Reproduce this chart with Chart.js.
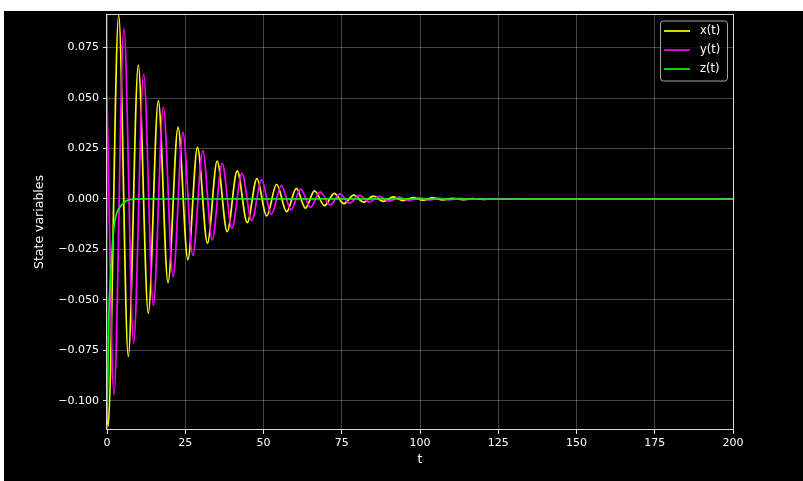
<!DOCTYPE html>
<html>
<head>
<meta charset="utf-8">
<script src="https://cdn.jsdelivr.net/npm/chart.js@4/dist/chart.umd.min.js"></script>
<style>
  html, body { margin: 0; padding: 0; background: #ffffff; width: 803px; height: 481px; overflow: hidden; }
  #wrap { position: absolute; left: 4px; top: 11px; width: 799px; height: 470px; background: #000000; }
</style>
</head>
<body>
<div id="wrap"><canvas id="c" width="799" height="470"></canvas></div>
<script>
// Series names
const seriesLabels = ['x(t)', 'y(t)', 'z(t)'];

// x(t): turning points of the damped oscillation
const tX = [0, 0.32, 3.73, 6.8, 10.0, 13.2, 16.4, 19.5, 22.7, 25.85, 28.9, 32.1, 35.2, 38.4, 41.6, 44.8,
  47.9, 51.0, 54.2, 57.4, 60.5, 63.4, 66.3, 69.5, 72.6, 75.7, 78.8, 82.0, 85.1, 88.3, 91.5, 94.6,
  97.8, 101.0, 104.1, 107.3, 110.5, 113.6, 116.8, 120.0, 123.1, 126.3, 135, 150, 175, 200];
const xVals = [-0.095, -0.1127, 0.0911, -0.078, 0.0663, -0.0566, 0.0487, -0.0414, 0.0355, -0.0300, 0.0256,
  -0.0219, 0.0188, -0.0162, 0.0139, -0.0117, 0.0101, -0.0084, 0.0073, -0.0063, 0.0053, -0.0046, 0.0040,
  -0.0033, 0.0028, -0.0023, 0.0019, -0.0016, 0.0014, -0.0012, 0.0010, -0.0008, 0.0007, -0.0006, 0.0005,
  -0.0004, 0.0003, -0.0003, 0.0002, -0.0002, 0.0001, -0.0001, 0, 0, 0, 0];

// y(t): turning points, lagging x(t)
const tY = [0, 2.24, 5.4, 8.5, 11.7, 14.8, 18.0, 21.1, 24.25, 27.4, 30.6, 33.6, 36.8, 39.9, 43.1, 46.2,
  49.4, 52.5, 55.7, 58.8, 61.9, 65.0, 68.1, 71.3, 74.4, 77.5, 80.7, 83.8, 87.0, 90.2, 93.3, 96.5,
  99.7, 102.8, 106.0, 109.2, 112.3, 115.5, 118.7, 121.8, 125.0, 135, 150, 175, 200];
const yVals = [0.050, -0.097, 0.0845, -0.0714, 0.0619, -0.0525, 0.0454, -0.0385, 0.0330, -0.0278, 0.0239,
  -0.0203, 0.0177, -0.0145, 0.0127, -0.0107, 0.0094, -0.0076, 0.0066, -0.0054, 0.0049, -0.0041, 0.0035,
  -0.0030, 0.0025, -0.0021, 0.0018, -0.0015, 0.0013, -0.0011, 0.0009, -0.0008, 0.0006, -0.0005, 0.0004,
  -0.0004, 0.0003, -0.0002, 0.0002, -0.0001, 0.0001, 0, 0, 0, 0];

// z(t): fast relaxation to zero
const tZ = [0, 0.3, 0.64, 1.0, 1.5, 2.2, 3.0, 4.4, 6.5, 9, 12, 50, 100, 150, 200];
const zVals = [-0.11, -0.085, -0.055, -0.042, -0.028, -0.014, -0.0075, -0.0035, -0.0007, -0.0001, 0, 0, 0, 0, 0];

// Axis ticks
const tTicks = [0, 25, 50, 75, 100, 125, 150, 175, 200];
const stateTicks = [-0.100, -0.075, -0.050, -0.025, 0.000, 0.025, 0.050, 0.075];

const colors = ['#ffff00', '#ff00ff', '#00ff00'];

const toPoints = (ts, vs) => ts.map((t, i) => ({ x: t, y: vs[i] }));

Chart.defaults.font.family = "'DejaVu Sans', sans-serif";
Chart.defaults.font.size = 11;
Chart.defaults.color = '#ffffff';

// Box around the plotting area
const frame = {
  id: 'frame',
  afterDatasetsDraw(chart) {
    const { ctx, chartArea: a } = chart;
    ctx.save();
    ctx.strokeStyle = '#d9d9d9';
    ctx.lineWidth = 1;
    ctx.strokeRect(Math.round(a.left) - 0.5, Math.round(a.top) + 0.5,
      Math.round(a.right - a.left) + 1, Math.round(a.bottom - a.top) - 1);
    ctx.restore();
  }
};

// Legend box in the upper-right corner of the plot
const cornerLegend = {
  id: 'cornerLegend',
  afterDraw(chart) {
    const { ctx, chartArea: a } = chart;
    const w = 67, h = 60;
    const L = a.right - 6 - w, T = a.top + 6.5;
    ctx.save();
    ctx.beginPath();
    ctx.roundRect(L + 0.5, T + 0.5, w, h, 3);
    ctx.fillStyle = 'rgba(0,0,0,0.8)';
    ctx.fill();
    ctx.strokeStyle = 'rgba(204,204,204,0.8)';
    ctx.lineWidth = 1;
    ctx.stroke();
    ctx.font = "11.5px 'DejaVu Sans', sans-serif";
    ctx.textBaseline = 'middle';
    chart.data.datasets.forEach((ds, i) => {
      const y = T + 10.5 + i * 19;
      ctx.beginPath();
      ctx.moveTo(L + 4, y);
      ctx.lineTo(L + 30, y);
      ctx.strokeStyle = ds.borderColor;
      ctx.lineWidth = 1.7;
      ctx.stroke();
      ctx.fillStyle = '#ffffff';
      ctx.fillText(ds.label, L + 40, y);
    });
    ctx.restore();
  }
};

const noEdgePadding = (s) => { s.paddingTop = 0; s.paddingBottom = 0; s.paddingLeft = 0; s.paddingRight = 0; };

new Chart(document.getElementById('c'), {
  type: 'line',
  data: {
    datasets: [
      { label: seriesLabels[0], data: toPoints(tX, xVals), borderColor: colors[0], order: 2 },
      { label: seriesLabels[1], data: toPoints(tY, yVals), borderColor: colors[1], order: 1 },
      { label: seriesLabels[2], data: toPoints(tZ, zVals), borderColor: colors[2], order: 0 }
    ]
  },
  options: {
    responsive: false,
    animation: false,
    layout: { padding: { left: 0, right: 70, top: 3, bottom: 0 } },
    elements: {
      point: { radius: 0 },
      line: { borderWidth: 1.7, cubicInterpolationMode: 'monotone', fill: false }
    },
    plugins: { legend: { display: false }, tooltip: { enabled: false } },
    scales: {
      x: {
        type: 'linear',
        min: 0, max: 200,
        afterFit: (s) => { s.height = 51; noEdgePadding(s); },
        afterBuildTicks: (s) => { s.ticks = tTicks.map(v => ({ value: v })); },
        ticks: { color: '#ffffff', padding: 3, maxRotation: 0, callback: (v) => String(v) },
        grid: { color: 'rgba(255,255,255,0.3)', lineWidth: 0.9, tickColor: '#ffffff', tickLength: 4, drawTicks: true },
        border: { display: false },
        title: { display: true, text: 't', color: '#ffffff', font: { size: 12.5 }, padding: { top: 0, bottom: 13.5 } }
      },
      y: {
        type: 'linear',
        min: -0.1144, max: 0.0916,
        afterFit: (s) => { s.width = 103; noEdgePadding(s); },
        afterBuildTicks: (s) => { s.ticks = stateTicks.map(v => ({ value: v })); },
        ticks: { color: '#ffffff', padding: 4, callback: (v) => v.toFixed(3).replace('-', '\u2212') },
        grid: { color: 'rgba(255,255,255,0.3)', lineWidth: 0.9, tickColor: '#ffffff', tickLength: 4, drawTicks: true },
        border: { display: false },
        title: { display: true, text: 'State variables', color: '#ffffff', font: { size: 12.5 }, padding: { top: 28.5, bottom: 0 } }
      }
    }
  },
  plugins: [frame, cornerLegend]
});
</script>
</body>
</html>
